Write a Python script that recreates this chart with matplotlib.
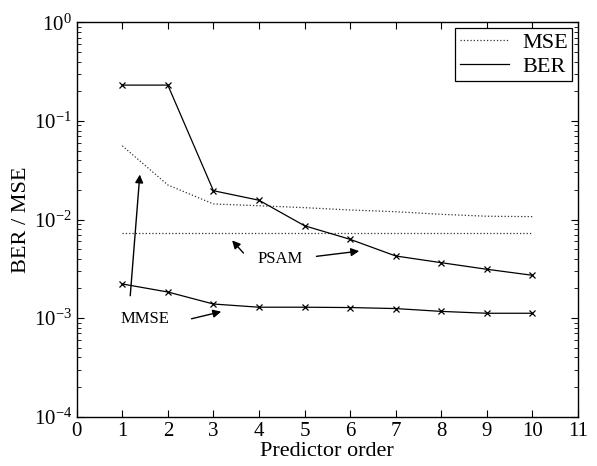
import matplotlib
matplotlib.use("Agg")
import matplotlib.pyplot as plt
from matplotlib.lines import Line2D
from matplotlib.ticker import LogLocator, NullFormatter

# predictor order
order = [1, 2, 3, 4, 5, 6, 7, 8, 9, 10]

# MSE curves (dotted)
mse_mmse = [0.056, 0.0224, 0.0144, 0.0138, 0.0132, 0.0125, 0.0120, 0.0113, 0.0108, 0.0107]
mse_psam = [0.00724] * 10

# BER curves (solid, x markers)
ber_psam = [0.231, 0.231, 0.0196, 0.0157, 0.00865, 0.0063, 0.00427, 0.00365, 0.00313, 0.00272]
ber_mmse = [0.00222, 0.00184, 0.00139, 0.00129, 0.00129, 0.00128, 0.00125, 0.00117, 0.00112, 0.00112]

plt.rcParams["font.family"] = ["Liberation Serif", "DejaVu Serif"]
plt.rcParams["mathtext.fontset"] = "custom"
plt.rcParams["mathtext.rm"] = "Liberation Serif"

fig = plt.figure(figsize=(5.97, 4.66), dpi=100)
ax = fig.add_axes([0.1285, 0.1058, 0.8395, 0.8462])

ax.plot(order, mse_mmse, ls=":", color="#333333", lw=0.9)
ax.plot(order, mse_psam, ls=":", color="#333333", lw=0.9)
ax.plot(order, ber_psam, "-x", color="black", lw=0.9, ms=5, mew=0.9)
ax.plot(order, ber_mmse, "-x", color="black", lw=0.9, ms=5, mew=0.9)

ax.set_yscale("log")
ax.set_xlim(0, 11)
ax.set_ylim(1e-4, 1e0)
ax.set_xticks(range(0, 12))
ax.yaxis.set_major_locator(LogLocator(base=10, numticks=10))
ax.yaxis.set_minor_locator(LogLocator(base=10, subs=range(2, 10), numticks=50))
ax.yaxis.set_minor_formatter(NullFormatter())
ax.tick_params(which="both", direction="in", top=True, right=True, labelsize=15)
ax.tick_params(which="major", length=5, width=0.8)
ax.tick_params(which="minor", length=3, width=0.6)
for s in ax.spines.values():
    s.set_linewidth(1.0)

ax.set_xlabel("Predictor order", fontsize=16, labelpad=1)
ax.set_ylabel("BER / MSE", fontsize=16, labelpad=2)

arrow = dict(arrowstyle="-|>", color="black", lw=1.0, mutation_scale=12)
ax.text(4.47, 0.0040, "PSAM", fontsize=12, ha="center", va="center")
ax.annotate("", xy=(3.37, 0.00645), xytext=(3.70, 0.00436), arrowprops=arrow)
ax.annotate("", xy=(6.26, 0.00482), xytext=(5.20, 0.0042), arrowprops=arrow)
ax.text(1.5, 0.00098, "MMSE", fontsize=12, ha="center", va="center")
ax.annotate("", xy=(1.39, 0.0305), xytext=(1.17, 0.00158), arrowprops=arrow)
ax.annotate("", xy=(3.23, 0.00118), xytext=(2.46, 0.00097), arrowprops=arrow)

# legend shows plain line styles only
handles = [Line2D([], [], ls=":", color="#333333", lw=0.9),
           Line2D([], [], ls="-", color="black", lw=0.9)]
leg = ax.legend(handles, ["MSE", "BER"], loc="upper right", fontsize=16,
                fancybox=False, edgecolor="black", framealpha=1,
                handlelength=2.2, borderaxespad=0.25, borderpad=0.2,
                labelspacing=0.15, handletextpad=0.6)
leg.get_frame().set_linewidth(0.9)

fig.savefig("out.png", dpi=100)
